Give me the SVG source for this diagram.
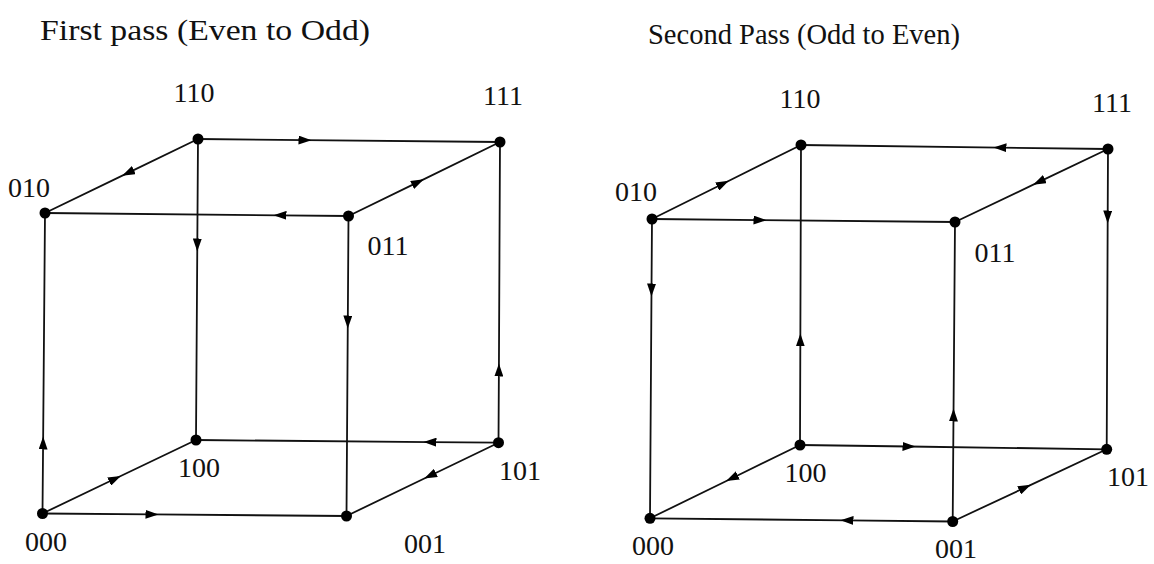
<svg xmlns="http://www.w3.org/2000/svg" width="1154" height="564" viewBox="0 0 1154 564">
<style>
.e{fill:none;stroke:#111;stroke-width:1.8;marker-mid:url(#ah)}
.d{fill:#000}
.l{font-family:"Liberation Serif","Times New Roman",serif;font-size:28px;fill:#111;text-anchor:middle}
.t{font-family:"Liberation Serif","Times New Roman",serif;font-size:29px;fill:#111}
</style>
<defs>
<marker id="ah" viewBox="0 0 13 9" refX="6.5" refY="4.5" markerWidth="13" markerHeight="9" markerUnits="userSpaceOnUse" orient="auto">
<path d="M0,0 L13,4.5 L0,9 z" fill="#000"/>
</marker>
</defs>
<rect width="1154" height="564" fill="#fff"/>
<text class="t" x="40" y="40" textLength="330" lengthAdjust="spacingAndGlyphs">First pass (Even to Odd)</text>
<text class="t" x="648" y="44" textLength="312" lengthAdjust="spacingAndGlyphs">Second Pass (Odd to Even)</text>
<g id="connectors">
<path class="e" d="M42.5,513.5 L43.1,443 L45,213"/>
<path class="e" d="M42.5,513.5 L115,478.8 L196,440"/>
<path class="e" d="M42.5,513.5 L152,514.4 L346.5,516"/>
<path class="e" d="M498.5,442.7 L430,442.1 L196,440"/>
<path class="e" d="M498.5,442.7 L430,475.7 L346.5,516"/>
<path class="e" d="M498.5,442.7 L498.9,370 L500,142"/>
<path class="e" d="M348.5,216 L347.8,322 L346.5,516"/>
<path class="e" d="M348.5,216 L280,215.3 L45,213"/>
<path class="e" d="M348.5,216 L418,182.1 L500,142"/>
<path class="e" d="M198,139 L128,172.9 L45,213"/>
<path class="e" d="M198,139 L305,140.1 L500,142"/>
<path class="e" d="M198,139 L197.3,245 L196,440"/>
<path class="e" d="M652,219 L651.5,290 L650,518.3"/>
<path class="e" d="M652,219 L723,183.7 L801,145"/>
<path class="e" d="M652,219 L760,220.1 L955,222"/>
<path class="e" d="M1108,149 L1000,147.6 L801,145"/>
<path class="e" d="M1108,149 L1039,181.9 L955,222"/>
<path class="e" d="M1108,149 L1107.7,217 L1106.7,449.3"/>
<path class="e" d="M800,445 L800.35,340 L801,145"/>
<path class="e" d="M952.7,521.5 L953.5,415 L955,222"/>
<path class="e" d="M800,445 L909,446.5 L1106.7,449.3"/>
<path class="e" d="M800,445 L732,478.2 L650,518.3"/>
<path class="e" d="M952.7,521.5 L847,520.4 L650,518.3"/>
<path class="e" d="M952.7,521.5 L1025,487.6 L1106.7,449.3"/>
</g>
<g id="L000"><circle class="d" cx="42.5" cy="513.5" r="5.5"/><text class="l" x="46" y="551">000</text></g>
<g id="L001"><circle class="d" cx="346.5" cy="516" r="5.5"/><text class="l" x="425" y="553">001</text></g>
<g id="L100"><circle class="d" cx="196" cy="440" r="5.5"/><text class="l" x="199" y="477">100</text></g>
<g id="L101"><circle class="d" cx="498.5" cy="442.7" r="5.5"/><text class="l" x="520" y="480">101</text></g>
<g id="L010"><circle class="d" cx="45" cy="213" r="5.5"/><text class="l" x="29" y="197">010</text></g>
<g id="L011"><circle class="d" cx="348.5" cy="216" r="5.5"/><text class="l" x="388" y="255">011</text></g>
<g id="L110"><circle class="d" cx="198" cy="139" r="5.5"/><text class="l" x="194" y="102">110</text></g>
<g id="L111"><circle class="d" cx="500" cy="142" r="5.5"/><text class="l" x="503" y="105">111</text></g>
<g id="R000"><circle class="d" cx="650" cy="518.3" r="5.5"/><text class="l" x="653" y="555">000</text></g>
<g id="R001"><circle class="d" cx="952.7" cy="521.5" r="5.5"/><text class="l" x="956" y="558">001</text></g>
<g id="R100"><circle class="d" cx="800" cy="445" r="5.5"/><text class="l" x="805.5" y="482">100</text></g>
<g id="R101"><circle class="d" cx="1106.7" cy="449.3" r="5.5"/><text class="l" x="1128" y="486">101</text></g>
<g id="R010"><circle class="d" cx="652" cy="219" r="5.5"/><text class="l" x="636" y="201">010</text></g>
<g id="R011"><circle class="d" cx="955" cy="222" r="5.5"/><text class="l" x="995" y="262">011</text></g>
<g id="R110"><circle class="d" cx="801" cy="145" r="5.5"/><text class="l" x="800" y="108">110</text></g>
<g id="R111"><circle class="d" cx="1108" cy="149" r="5.5"/><text class="l" x="1112" y="112">111</text></g>
</svg>
